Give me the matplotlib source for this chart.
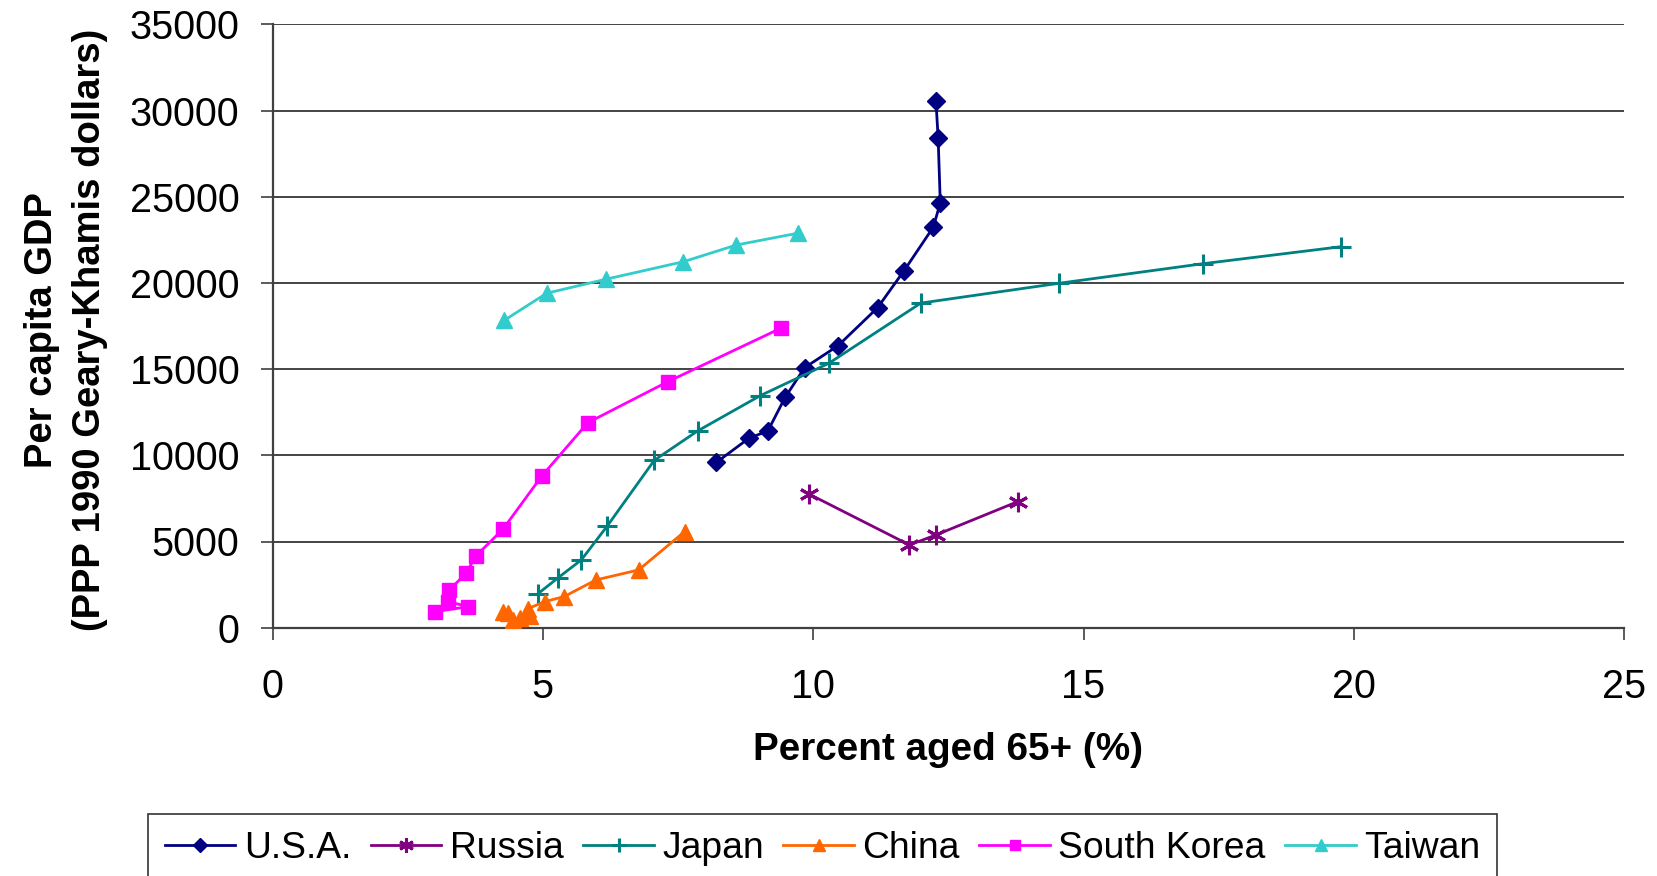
import matplotlib
matplotlib.use("Agg")
import matplotlib.pyplot as plt

plt.rcParams['font.family'] = ['Liberation Sans', 'DejaVu Sans']

# ---- data ----
usa_x = [8.21, 8.81, 9.16, 9.48, 9.84, 10.46, 11.19, 11.68, 12.22, 12.35, 12.31, 12.27]
usa_y = [9590, 10990, 11410, 13360, 15080, 16360, 18560, 20710, 23230, 24640, 28410, 30550]

russia_x = [9.93, 11.78, 12.27, 13.78]
russia_y = [7740, 4800, 5380, 7310]

japan_x = [4.90, 5.27, 5.71, 6.19, 7.06, 7.86, 9.02, 10.29, 11.99, 14.55, 17.20, 19.76]
japan_y = [1950, 2870, 3930, 5900, 9710, 11410, 13460, 15340, 18830, 19980, 21110, 22100]

china_x = [4.26, 4.35, 4.45, 4.58, 4.77, 4.72, 5.03, 5.39, 5.98, 6.77, 7.62]
china_y = [900, 860, 450, 560, 660, 1100, 1510, 1800, 2770, 3350, 5570]

korea_x = [3.00, 3.62, 3.25, 3.27, 3.58, 3.76, 4.26, 4.98, 5.83, 7.31, 9.40]
korea_y = [930, 1220, 1510, 2190, 3160, 4160, 5710, 8800, 11890, 14270, 17370]

taiwan_x = [4.28, 5.07, 6.16, 7.60, 8.58, 9.71]
taiwan_y = [17820, 19400, 20210, 21230, 22200, 22880]

x_ticks = [0, 5, 10, 15, 20, 25]
y_ticks = [0, 5000, 10000, 15000, 20000, 25000, 30000, 35000]

xlabel = "Percent aged 65+ (%)"
ylabel = "Per capita GDP\n(PPP 1990 Geary-Khamis dollars)"

# ---- figure ----
W, H = 1657, 876
fig = plt.figure(figsize=(W / 100, H / 100), dpi=100)
ax = fig.add_axes([272.6 / W, 1 - 627.7 / H, (1624.2 - 272.6) / W, (627.7 - 24.3) / H])

lw = 2.0
series = [
    ("U.S.A.", usa_x, usa_y, dict(color="#000080", marker="D", ms=9)),
    ("Russia", russia_x, russia_y, dict(color="#800080", marker=(6, 2, 0), ms=14, mew=2.2)),
    ("Japan", japan_x, japan_y, dict(color="#008080", marker="+", ms=14, mew=2.2)),
    ("China", china_x, china_y, dict(color="#FF6600", marker="^", ms=11.5)),
    ("South Korea", korea_x, korea_y, dict(color="#FF00FF", marker="s", ms=10.5)),
    ("Taiwan", taiwan_x, taiwan_y, dict(color="#33CCCC", marker="^", ms=11.5)),
]
for name, xs, ys, st in series:
    ax.plot(xs, ys, label=name, lw=lw, zorder=3, **st)

ax.set_xlim(0, 25)
ax.set_ylim(0, 35000)
ax.set_xticks(x_ticks)
ax.set_yticks(y_ticks)
ax.set_xticklabels([str(v) for v in x_ticks])
ax.set_yticklabels([str(v) for v in y_ticks])

ax.yaxis.grid(True, color="#111111", lw=1.1, zorder=1)
ax.set_axisbelow(True)
for s in ["top", "right"]:
    ax.spines[s].set_visible(False)
for s in ["left", "bottom"]:
    ax.spines[s].set_color("#404040")
    ax.spines[s].set_linewidth(1.6)

ax.tick_params(axis="both", direction="out", length=8.8, width=1.2, color="#404040",
               labelsize=28.5)
ax.tick_params(axis="x", pad=20)
ax.tick_params(axis="y", pad=15)

fig.text(948 / W, 1 - 750 / H, xlabel, ha="center", va="center",
         fontsize=27.8, fontweight="bold")
fig.text(66 / W, 1 - 330 / H, ylabel, ha="center", va="center", rotation=90,
         fontsize=27.5, fontweight="bold", linespacing=1.45, multialignment="center")

leg = fig.legend(loc="upper left", bbox_to_anchor=(148 / W, 1 - 814 / H),
                 ncol=6, fontsize=26.8, frameon=True, fancybox=False,
                 handlelength=1.9, handletextpad=0.22, columnspacing=0.53,
                 borderpad=0.45, borderaxespad=0, markerscale=0.75)
leg.get_frame().set_edgecolor("black")
leg.get_frame().set_linewidth(1.2)

fig.savefig("out.png", dpi=100)
